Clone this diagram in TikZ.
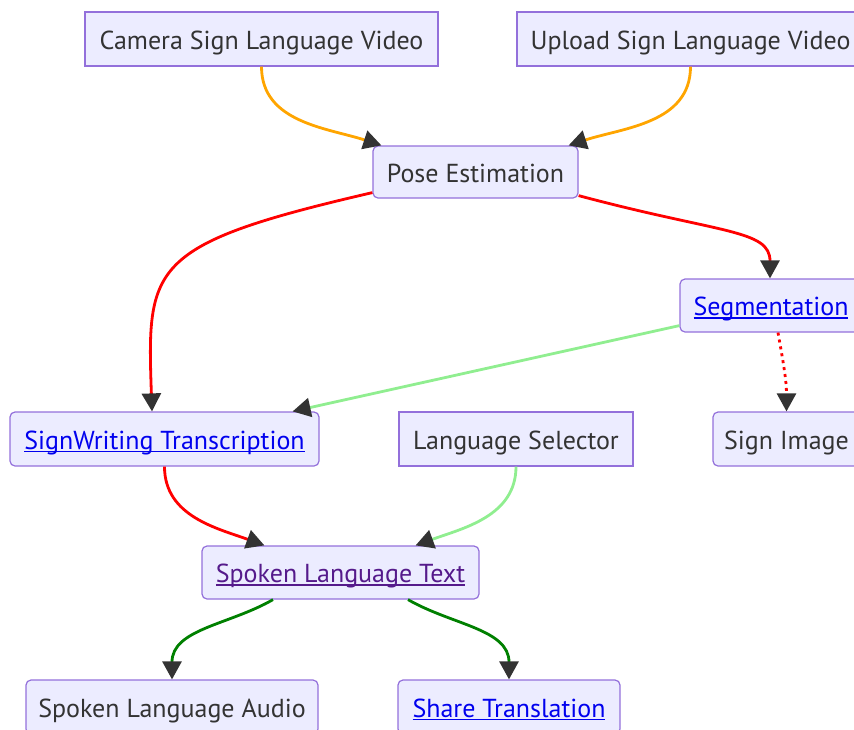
\documentclass[tikz,border=0pt]{standalone}
\usepackage{fontspec}
\setmainfont{PT Sans}
\usepackage{xcolor}
\usepackage{tikz}
\usetikzlibrary{arrows.meta}

\definecolor{nodefill}{HTML}{ECECFF}
\definecolor{nodeline}{HTML}{9370DB}
\definecolor{txt}{HTML}{333333}
\definecolor{tipc}{HTML}{333333}
\definecolor{lnkblue}{HTML}{0000EE}
\definecolor{lnkvisit}{HTML}{551A8B}
\definecolor{edgeor}{HTML}{FFA500}
\definecolor{edgelg}{HTML}{90EE90}
\definecolor{edgegr}{HTML}{008000}

% underlined link text
\newcommand{\ulk}[1]{\setbox0\hbox{#1}\rlap{\rule[-3pt]{\wd0}{1.5pt}}\box0}

\begin{document}
\begin{tikzpicture}[x=1pt,y=1pt,
  sq/.style={draw=nodeline, fill=nodefill, line width=1.2pt,
    minimum height=54pt, inner sep=0pt, text=txt,
    text height=20pt, text depth=0pt,
    font=\fontsize{26}{30}\selectfont},
  rnd/.style={sq, rounded corners=5pt},
  lk/.style={text=lnkblue},
  vis/.style={text=lnkvisit},
  ar/.style={line width=2.8pt,
    -{Triangle[length=18pt,width=19pt,color=tipc]}}
]
\useasboundingbox (0,0) rectangle (854,-729);
\clip (0,0) rectangle (854,-729);

% Inputs
\node[sq, minimum width=353pt] (cam) at (261.5,-39) {Camera Sign Language Video};
\node[sq, minimum width=347pt] (upl) at (690.5,-39) {Upload Sign Language Video};

% Processing
\node[rnd, minimum width=205pt, minimum height=52pt] (pose) at (475.5,-172) {Pose Estimation};
\node[rnd, lk, minimum width=182pt, minimum height=53pt] (seg) at (771,-305.5) {\ulk{Segmentation}};
\node[rnd, lk, minimum width=309pt] (sw) at (164.5,-439) {\ulk{SignWriting Transcription}};
\node[sq, minimum width=234pt] (lang) at (516,-439) {Language Selector};
\node[rnd, minimum width=147pt] (img) at (786.5,-439) {Sign Image};
\node[rnd, vis, minimum width=277pt, minimum height=53pt] (spk) at (340.5,-572.5) {\ulk{Spoken Language Text}};

% Outputs
\node[rnd, minimum width=292pt] (aud) at (172,-707) {Spoken Language Audio};
\node[rnd, lk, minimum width=222pt] (share) at (509,-707) {\ulk{Share Translation}};

% Edges
\draw[ar, edgeor] (cam.south) to[out=-90,in=162] ([xshift=9pt]pose.north west);
\draw[ar, edgeor] (upl.south) to[out=-90,in=18] ([xshift=-10pt]pose.north east);
\draw[ar, red] ([yshift=6pt]pose.south west) to[out=193,in=92, out looseness=1.9, in looseness=1.2] ([xshift=-12.5pt]sw.north);
\draw[ar, red] ([yshift=3pt]pose.south east) to[out=-15,in=90, out looseness=1.8, in looseness=0.6] ([xshift=-1pt]seg.north);
\draw[ar, edgelg] ([yshift=7pt]seg.south west) -- ([xshift=-27pt]sw.north east);
\draw[ar, red, dash pattern=on 3pt off 4pt] ([xshift=7pt]seg.south) to[out=-80,in=90] (img.north);
\draw[ar, red] (sw.south) to[out=-90,in=160] ([xshift=63pt]spk.north west);
\draw[ar, edgelg] (lang.south) to[out=-90,in=20] ([xshift=-64pt]spk.north east);
\draw[ar, edgegr] ([xshift=-67.5pt]spk.south) to[out=210,in=90] (aud.north);
\draw[ar, edgegr] ([xshift=67.5pt]spk.south) to[out=-30,in=90] (share.north);
\end{tikzpicture}
\end{document}
